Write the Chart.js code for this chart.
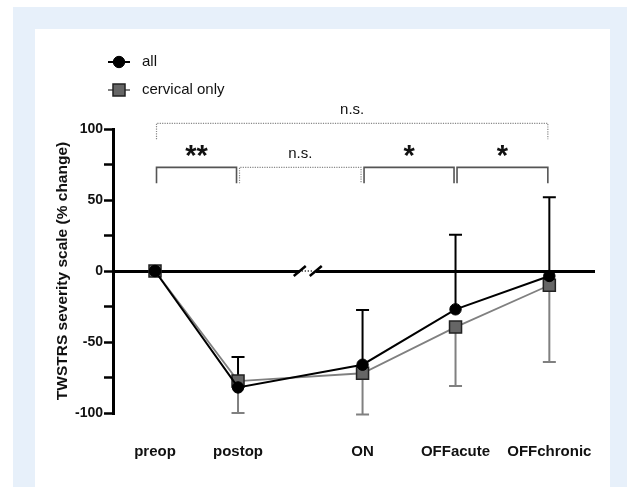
<!DOCTYPE html>
<html lang="en">
<head>
<meta charset="UTF-8">
<title>TWSTRS severity scale (% change)</title>
<script src="https://cdn.jsdelivr.net/npm/chart.js"></script>
<style>
    body { margin: 0; background: #fff; }
    .frame {
        position: absolute;
        left: 13px; top: 7px;
        width: 614px; height: 480px;
        background: #e7f0fa;
    }
    .panel {
        position: absolute;
        left: 22px; top: 22px;
        width: 575px; height: 458px;
        background: #fff;
    }
    canvas { display: block; }
</style>
</head>
<body>

<div class="frame">
  <div class="panel">
    <canvas id="chart" width="575" height="458"></canvas>
  </div>
</div>

<script>
    // categories and where they sit on the x axis (gap before ON = axis break)
    const categories = ['preop', 'postop', 'ON', 'OFFacute', 'OFFchronic'];
    const positions = [0, 1, 2.5, 3.62, 4.75];

    // mean % change and SD (SD drawn upward for "all", downward for "cervical only")
    const allMean = [0, -82, -66, -27, -3.5];
    const allSD = [0, 21.5, 38.5, 52.5, 55.5];
    const cervMean = [0, -77.5, -72, -39.5, -10];
    const cervSD = [0, 22.5, 29, 41.5, 54];

    const yTickLabels = [-100, -50, 0, 50, 100];

    // significance brackets
    const comparisons = [
        { from: 0, to: 4, label: 'n.s.', level: 104, dotted: true },
        { from: 0, to: 1, label: '**', level: 73, dotted: false },
        { from: 1, to: 2, label: 'n.s.', level: 73, dotted: true },
        { from: 2, to: 3, label: '*', level: 73, dotted: false },
        { from: 3, to: 4, label: '*', level: 73, dotted: false }
    ];

    const FONT = "'Liberation Sans', Arial, sans-serif";
    const breakAt = 1.84;

    function points(mean) {
        return positions.map((x, i) => ({ x: x, y: mean[i] }));
    }

    // error bars, axis break, brackets, legend
    const extras = {
        id: 'extras',
        beforeDatasetsDraw(chart) {
            const ctx = chart.ctx;
            const xs = chart.scales.x, ys = chart.scales.y;

            // axis break on the zero line
            const bx = xs.getPixelForValue(breakAt);
            const y0 = ys.getPixelForValue(0);
            ctx.save();
            ctx.fillStyle = '#fff';
            ctx.fillRect(bx - 8, y0 - 3, 16, 6);
            ctx.strokeStyle = '#000';
            ctx.lineWidth = 1.5;
            ctx.setLineDash([1, 2]);
            ctx.beginPath();
            ctx.moveTo(bx - 6, y0);
            ctx.lineTo(bx + 6, y0);
            ctx.stroke();
            ctx.setLineDash([]);
            ctx.lineWidth = 2.5;
            [-8, 8].forEach(d => {
                ctx.beginPath();
                ctx.moveTo(bx + d - 6, y0 + 5);
                ctx.lineTo(bx + d + 6, y0 - 5);
                ctx.stroke();
            });

            // error bars
            chart.data.datasets.forEach(ds => {
                ctx.strokeStyle = ds.errColor;
                ctx.lineWidth = 2;
                ds.err.forEach((sd, i) => {
                    if (!sd) return;
                    const x = xs.getPixelForValue(positions[i]);
                    const ym = ys.getPixelForValue(ds.data[i].y);
                    const ye = ys.getPixelForValue(ds.data[i].y + ds.errDir * sd);
                    ctx.beginPath();
                    ctx.moveTo(x, ym);
                    ctx.lineTo(x, ye);
                    ctx.moveTo(x - 6.5, ye);
                    ctx.lineTo(x + 6.5, ye);
                    ctx.stroke();
                });
            });
            ctx.restore();
        },
        afterDraw(chart) {
            const ctx = chart.ctx;
            const xs = chart.scales.x, ys = chart.scales.y;
            ctx.save();

            // brackets
            comparisons.forEach(c => {
                const xa = xs.getPixelForValue(positions[c.from]) + 1.5;
                const xb = xs.getPixelForValue(positions[c.to]) - 1.5;
                const yl = ys.getPixelForValue(c.level);
                ctx.beginPath();
                if (c.dotted) {
                    ctx.strokeStyle = '#888';
                    ctx.lineWidth = 1.2;
                    ctx.setLineDash([1.2, 1.2]);
                } else {
                    ctx.strokeStyle = '#555';
                    ctx.lineWidth = 1.6;
                    ctx.setLineDash([]);
                }
                ctx.moveTo(xa, yl + 16);
                ctx.lineTo(xa, yl);
                ctx.lineTo(xb, yl);
                ctx.lineTo(xb, yl + 16);
                ctx.stroke();
                ctx.setLineDash([]);

                ctx.fillStyle = '#111';
                ctx.textAlign = 'center';
                if (c.label === 'n.s.') {
                    ctx.font = '15px ' + FONT;
                    ctx.textBaseline = 'middle';
                    ctx.fillText(c.label, (xa + xb) / 2, yl - 13);
                } else {
                    ctx.font = 'bold 29px ' + FONT;
                    ctx.textBaseline = 'alphabetic';
                    ctx.fillText(c.label, (xa + xb) / 2, yl - 2);
                }
            });

            // legend
            chart.data.datasets.forEach((ds, i) => {
                const cy = 33 + i * 28;
                ctx.strokeStyle = ds.borderColor;
                ctx.lineWidth = 2;
                ctx.beginPath();
                ctx.moveTo(73, cy);
                ctx.lineTo(95, cy);
                ctx.stroke();
                ctx.fillStyle = ds.pointBackgroundColor;
                ctx.strokeStyle = ds.pointBorderColor;
                ctx.lineWidth = ds.pointBorderWidth;
                Chart.helpers.drawPoint(ctx, {
                    pointStyle: ds.pointStyle,
                    radius: ds.pointRadius,
                    borderWidth: ds.pointBorderWidth
                }, 84, cy);
                ctx.fillStyle = '#111';
                ctx.font = '15px ' + FONT;
                ctx.textAlign = 'left';
                ctx.textBaseline = 'middle';
                ctx.fillText(ds.label, 107, cy);
            });
            ctx.restore();
        }
    };

    const ctx = document.getElementById('chart').getContext('2d');
    new Chart(ctx, {
        type: 'line',
        data: {
            datasets: [{
                label: 'all',
                data: points(allMean),
                borderColor: '#000',
                borderWidth: 2,
                pointStyle: 'circle',
                pointRadius: 5.7,
                pointBackgroundColor: '#000',
                pointBorderColor: '#000',
                pointBorderWidth: 1,
                order: 0,
                err: allSD,
                errDir: 1,
                errColor: '#000'
            }, {
                label: 'cervical only',
                data: points(cervMean),
                borderColor: '#808080',
                borderWidth: 1.8,
                pointStyle: 'rect',
                pointRadius: 8.5,
                pointBackgroundColor: '#666',
                pointBorderColor: '#222',
                pointBorderWidth: 1.5,
                order: 1,
                err: cervSD,
                errDir: -1,
                errColor: '#808080'
            }]
        },
        options: {
            responsive: false,
            animation: false,
            layout: { padding: { top: 100, right: 15, left: 0, bottom: 0 } },
            plugins: {
                legend: { display: false },
                tooltip: { enabled: false }
            },
            scales: {
                x: {
                    type: 'linear',
                    min: -0.506,
                    max: 5.30,
                    afterBuildTicks: s => { s.ticks = positions.map(v => ({ value: v })); },
                    afterFit: s => {
                        s.height = 74;
                        s.paddingLeft = 0;
                        s.paddingRight = 0;
                    },
                    ticks: {
                        callback: v => categories[positions.indexOf(v)],
                        font: { family: FONT, weight: 'bold', size: 15 },
                        color: '#111',
                        padding: 30,
                        maxRotation: 0,
                        autoSkip: false
                    },
                    grid: { display: false, drawTicks: false },
                    border: { display: false }
                },
                y: {
                    min: -100,
                    max: 100,
                    afterFit: s => { s.width = 78; },
                    ticks: {
                        stepSize: 25,
                        callback: v => yTickLabels.includes(v) ? String(v) : '',
                        font: { family: FONT, weight: 'bold', size: 14 },
                        color: '#111',
                        padding: 1
                    },
                    grid: {
                        color: c => (c.tick && c.tick.value === 0) ? '#000' : 'rgba(0,0,0,0)',
                        lineWidth: 3,
                        tickColor: '#000',
                        tickWidth: 2.5,
                        tickLength: 9
                    },
                    border: { color: '#000', width: 3 },
                    title: {
                        display: true,
                        text: 'TWSTRS severity scale (% change)',
                        font: { family: FONT, weight: 'bold', size: 15.5 },
                        color: '#111',
                        padding: { top: 18, bottom: 0 }
                    }
                }
            }
        },
        plugins: [extras]
    });
</script>

</body>
</html>
